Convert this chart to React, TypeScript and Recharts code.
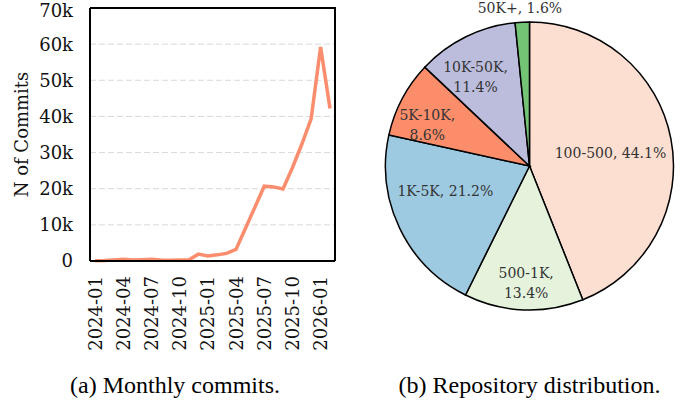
import React from "react";
import { LineChart, Line, XAxis, YAxis, CartesianGrid, PieChart, Pie, Cell } from "recharts";

// monthly commit counts, 2024-01 .. 2026-02
const months = [
  "2024-01", "2024-02", "2024-03", "2024-04", "2024-05", "2024-06",
  "2024-07", "2024-08", "2024-09", "2024-10", "2024-11", "2024-12",
  "2025-01", "2025-02", "2025-03", "2025-04", "2025-05", "2025-06",
  "2025-07", "2025-08", "2025-09", "2025-10", "2025-11", "2025-12",
  "2026-01", "2026-02",
];
const commits = [
  100, 150, 300, 450, 250, 350, 500, 300, 200, 250, 350, 1900,
  1400, 1700, 2100, 3200, 9000, 14800, 20700, 20500, 19900, 25800,
  32300, 39400, 59200, 42200,
];
const yTicks = [0, 10000, 20000, 30000, 40000, 50000, 60000, 70000];

// repository size buckets
const buckets = ["100-500", "500-1K", "1K-5K", "5K-10K", "10K-50K", "50K+"];
const shares = [44.1, 13.4, 21.2, 8.6, 11.4, 1.6];
const bucketColors = ["#FDDFD1", "#E5F3DD", "#9ECAE1", "#FC8D6A", "#BCBDDC", "#74C476"];

const lineData = months.map((m, i) => ({ month: m, commits: commits[i] }));
const pieData = buckets.map((b, i) => ({ name: b, value: shares[i] }));

const AXIS_FONT = "'DejaVu Serif', serif";
const CAPTION_FONT = "'Liberation Serif', 'Times New Roman', serif";
const RAD = Math.PI / 180;

// line chart layout
const CHART_W = 350;
const CHART_H = 360;
const MARGIN = { top: 8, right: 15, left: 0, bottom: 0 };
const Y_AXIS_W = 90;
const X_AXIS_H = 99;

// where each slice label sits: fraction of radius, angle nudge, wrapped or not
const labelPlacement = [
  { r: 0.57, da: -1.5, wrap: false },
  { r: 0.81, da: 0.7, wrap: true },
  { r: 0.61, da: -9, wrap: false },
  { r: 0.765, da: 6, wrap: true },
  { r: 0.724, da: 5, wrap: true },
  { r: 1.1, da: 0.6, wrap: false },
];

const MonthTick = (props: any) => {
  const { x, y, payload } = props;
  return (
    <text
      x={x}
      y={y}
      transform={`rotate(-90, ${x}, ${y})`}
      textAnchor="end"
      dominantBaseline="central"
      fontFamily={AXIS_FONT}
      fontSize={18}
      fill="#111"
    >
      {payload.value}
    </text>
  );
};

// y-axis title, plus the top and right edges of the box around the plot
const YLabel = (props: any) => {
  const vb = props.viewBox;
  const x = vb.x + 21;
  const y = vb.y + vb.height / 2;
  const left = vb.x + vb.width;
  const right = CHART_W - MARGIN.right;
  const top = vb.y;
  const bottom = vb.y + vb.height;
  return (
    <g>
      <path
        d={`M${left},${top}H${right}V${bottom}`}
        fill="none"
        stroke="#000"
        strokeWidth={2}
      />
      <text
        x={x}
        y={y}
        transform={`rotate(-90, ${x}, ${y})`}
        textAnchor="middle"
        dominantBaseline="central"
        fontFamily={AXIS_FONT}
        fontSize={18}
        fill="#111"
      >
        N of Commits
      </text>
    </g>
  );
};

const SliceLabel = (props: any) => {
  const { cx, cy, midAngle, outerRadius, index } = props;
  const place = labelPlacement[index];
  const a = (midAngle + place.da) * RAD;
  const r = outerRadius * place.r;
  const x = cx + r * Math.cos(a);
  const y = cy - r * Math.sin(a);
  const name = buckets[index];
  const pct = `${shares[index].toFixed(1)}%`;
  const common = {
    textAnchor: "middle" as const,
    fontFamily: AXIS_FONT,
    fontSize: 14,
    fill: "#333",
  };
  if (place.wrap) {
    return (
      <text x={x} y={y} {...common}>
        <tspan x={x} y={y - 10} dominantBaseline="central">{name},</tspan>
        <tspan x={x} y={y + 10} dominantBaseline="central">{pct}</tspan>
      </text>
    );
  }
  return (
    <text x={x} y={y} dominantBaseline="central" {...common}>
      {name}, {pct}
    </text>
  );
};

const captionStyle: React.CSSProperties = {
  position: "absolute",
  top: 373,
  lineHeight: "24px",
  fontFamily: CAPTION_FONT,
  fontSize: 24,
  color: "#000",
  textAlign: "center",
  whiteSpace: "nowrap",
};

export default function App() {
  return (
    <div style={{ position: "absolute", left: 0, top: 0, width: 692, height: 402, background: "#fff" }}>
      <div style={{ position: "absolute", left: 0, top: 0 }}>
        <LineChart width={CHART_W} height={CHART_H} data={lineData} margin={MARGIN}>
          <CartesianGrid vertical={false} stroke="#D9D9D9" strokeDasharray="6 3" />
          <XAxis
            dataKey="month"
            interval={2}
            padding={{ left: 5, right: 5 }}
            height={X_AXIS_H}
            tickLine={false}
            tickSize={0}
            tickMargin={15}
            axisLine={{ stroke: "#000", strokeWidth: 2 }}
            tick={<MonthTick />}
          />
          <YAxis
            domain={[0, 70000]}
            ticks={yTicks}
            width={Y_AXIS_W}
            tickLine={false}
            tickSize={0}
            tickMargin={17}
            axisLine={{ stroke: "#000", strokeWidth: 2 }}
            tickFormatter={(v: number) => (v === 0 ? "0" : `${v / 1000}k`)}
            tick={{ fontFamily: AXIS_FONT, fontSize: 18, fill: "#111" }}
            label={{ content: <YLabel /> }}
          />
          <Line
            type="linear"
            dataKey="commits"
            stroke="#FA8D6E"
            strokeWidth={3.5}
            dot={false}
            isAnimationActive={false}
          />
        </LineChart>
      </div>
      <div style={{ position: "absolute", left: 370, top: 0 }}>
        <PieChart width={322} height={330} margin={{ top: 0, right: 0, left: 0, bottom: 0 }}>
          <Pie
            data={pieData}
            dataKey="value"
            nameKey="name"
            cx={159.5}
            cy={166}
            outerRadius={144}
            startAngle={90}
            endAngle={-270}
            stroke="#000"
            strokeWidth={1.5}
            labelLine={false}
            label={SliceLabel}
            isAnimationActive={false}
          >
            {pieData.map((d, i) => (
              <Cell key={d.name} fill={bucketColors[i]} />
            ))}
          </Pie>
        </PieChart>
      </div>
      <div style={{ ...captionStyle, left: 25, width: 300 }}>(a) Monthly commits.</div>
      <div style={{ ...captionStyle, left: 379.5, width: 300 }}>(b) Repository distribution.</div>
    </div>
  );
}
